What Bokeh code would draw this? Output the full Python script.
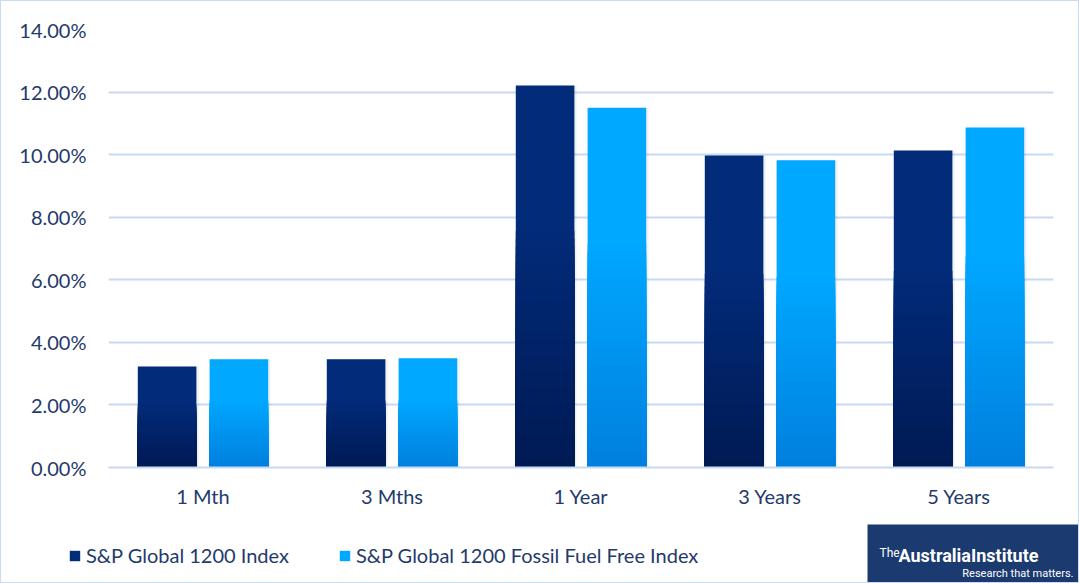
from bokeh.plotting import figure
from bokeh.layouts import column, row
from bokeh.models import (FactorRange, Legend, LegendItem, NumeralTickFormatter,
                          ColumnDataSource, FixedTicker)
from bokeh.transform import dodge
from bokeh.embed import file_html
from bokeh.resources import INLINE
from bokeh.core.properties import value

periods = ["1 Mth", "3 Mths", "1 Year", "3 Years", "5 Years"]
sp1200 = [0.0323, 0.0346, 0.1221, 0.0997, 0.1013]
sp1200_ffree = [0.0346, 0.0349, 0.1150, 0.0982, 0.1087]
series_names = ["S&P Global 1200 Index", "S&P Global 1200 Fossil Fuel Free Index"]
y_ticks = [0.0, 0.02, 0.04, 0.06, 0.08, 0.10, 0.12, 0.14]
logo_title = ["The", "AustraliaInstitute"]
logo_tagline = "Research that matters."

FONT = "Lato"
LOGO_FONT = "Roboto"
TXT = "#1f3a6b"
GRID = "#c6daf4"
BORDER = "#c9dcf4"
LOGO = "#1b3a6f"
DARK_TOP, DARK_BOT = "#022b7a", "#001a54"
LIGHT_TOP, LIGHT_BOT = "#00a8ff", "#0080de"

p = figure(x_range=FactorRange(*periods), y_range=(0, 0.14),
           width=1079, height=520, output_backend="svg", toolbar_location=None,
           min_border_left=107, min_border_right=27, min_border_top=28, min_border_bottom=54)
p.styles = {"border-top": f"1px solid {BORDER}", "border-left": f"1px solid {BORDER}",
            "border-right": f"1px solid {BORDER}", "box-sizing": "border-box"}
p.outline_line_color = None
p.background_fill_color = "white"
p.border_fill_color = "white"

def hex2rgb(h):
    h = h.lstrip("#")
    return tuple(int(h[i:i + 2], 16) for i in (0, 2, 4))

def lerp(c1, c2, t):
    a, b = hex2rgb(c1), hex2rgb(c2)
    return "#%02x%02x%02x" % tuple(int(round(a[i] + (b[i] - a[i]) * t)) for i in range(3))

def gradient_bars(vals, offset, top_col, bot_col):
    src = ColumnDataSource(dict(x=periods, top=vals))
    p.vbar(x=dodge("x", offset + 0.012, range=p.x_range), top="top", width=0.31,
           source=src, fill_color="#000000", fill_alpha=0.06, line_color=None)
    r = p.vbar(x=dodge("x", offset, range=p.x_range), top="top", width=0.31,
               source=src, fill_color=top_col, line_color=None)
    steps = 30
    for k in range(steps):
        f = 0.62 * (1 - k / steps)
        t = (k + 1) / steps
        s = ColumnDataSource(dict(x=periods, top=[v * f for v in vals]))
        p.vbar(x=dodge("x", offset, range=p.x_range), top="top", width=0.31,
               source=s, fill_color=lerp(top_col, bot_col, t), line_color=None)
    return r

gradient_bars(sp1200, -0.19, DARK_TOP, DARK_BOT)
gradient_bars(sp1200_ffree, 0.19, LIGHT_TOP, LIGHT_BOT)

p.yaxis.ticker = FixedTicker(ticks=y_ticks)
p.yaxis.formatter = NumeralTickFormatter(format="0.00%")
p.yaxis.axis_line_color = None
p.yaxis.major_tick_line_color = None
p.yaxis.minor_tick_line_color = None
p.yaxis.major_label_standoff = 16
p.yaxis.major_label_text_font = FONT
p.yaxis.major_label_text_font_size = "20px"
p.yaxis.major_label_text_color = TXT

p.xaxis.axis_line_color = GRID
p.xaxis.axis_line_width = 2
p.xaxis.major_tick_line_color = None
p.xaxis.minor_tick_line_color = None
p.xaxis.major_label_standoff = 10
p.xaxis.major_label_text_font = FONT
p.xaxis.major_label_text_font_size = "20px"
p.xaxis.major_label_text_color = TXT

p.xgrid.grid_line_color = None
p.ygrid.grid_line_color = GRID
p.ygrid.grid_line_width = 2

# bottom strip: legend + logo
b = figure(x_range=(0, 1079), y_range=(0, 63), width=1079, height=63,
           output_backend="svg", toolbar_location=None,
           min_border=0, min_border_left=0, min_border_right=0,
           min_border_top=0, min_border_bottom=0)
b.styles = {"border-left": f"1px solid {BORDER}", "border-right": f"1px solid {BORDER}",
            "border-bottom": f"1px solid {BORDER}", "box-sizing": "border-box"}
b.axis.visible = False
b.grid.visible = False
b.outline_line_color = None
b.background_fill_color = "white"
b.border_fill_color = "white"

# legend swatch renderers (placed outside the visible range)
swatch = ColumnDataSource(dict(x=[-500], top=[1]))
lr1 = b.vbar(x="x", top="top", width=1, source=swatch, fill_color=DARK_TOP, line_color=None)
lr2 = b.vbar(x="x", top="top", width=1, source=swatch, fill_color=LIGHT_TOP, line_color=None)
legend = Legend(items=[LegendItem(label=series_names[0], renderers=[lr1]),
                       LegendItem(label=series_names[1], renderers=[lr2])],
                orientation="horizontal", location=(67, 16),
                glyph_width=13, glyph_height=13, label_standoff=5, spacing=49,
                padding=0, margin=0, border_line_color=None, background_fill_alpha=0,
                label_text_font=FONT, label_text_font_size="20px", label_text_color=TXT,
                label_height=20)
b.add_layout(legend, "center")

b.quad(left=[866], right=[1079], bottom=[0], top=[59], fill_color=LOGO, line_color=None)
b.text(x=[878], y=[31], text=[logo_title[0]], text_font=value(LOGO_FONT),
       text_font_size="12px", text_color="white", text_baseline="alphabetic")
b.text(x=[897], y=[28], text=[logo_title[1]], text_font=value(LOGO_FONT),
       text_font_size="18px", text_font_style="bold", text_color="white",
       text_baseline="alphabetic")
b.text(x=[1072], y=[10], text=[logo_tagline], text_font=value(LOGO_FONT),
       text_font_size="11px", text_color="white", text_align="right",
       text_baseline="alphabetic")

layout = column(p, row(b), spacing=0)
open("out.html", "w").write(file_html(layout, INLINE))
